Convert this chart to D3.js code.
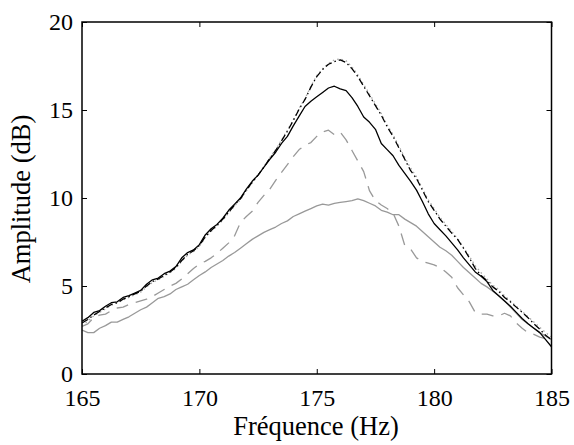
<!DOCTYPE html>
<html><head><meta charset="utf-8">
<script src="https://cdn.jsdelivr.net/npm/d3@7/dist/d3.min.js"></script>
<style>body{margin:0;background:#fff}svg{display:block}</style>
</head><body><svg id="c" width="574" height="445"></svg>
<script>
const freqStart = 165, freqStep = 0.25;
const xTicks = [165, 170, 175, 180, 185];
const yTicks = [0, 5, 10, 15, 20];
const xLabel = "Fréquence (Hz)";
const yLabel = "Amplitude (dB)";
// black solid
const serieA = [3.0,3.2,3.5,3.6,3.85,4.05,4.1,4.35,4.45,4.6,4.75,5.1,5.35,5.45,5.7,5.85,6.1,6.6,6.9,7.05,7.35,7.9,8.25,8.5,8.85,9.3,9.65,10.0,10.5,10.95,11.3,11.75,12.2,12.6,13.1,13.5,14.1,14.65,15.2,15.5,15.75,16.0,16.25,16.35,16.2,16.1,15.7,15.2,14.6,14.3,13.9,13.1,12.75,12.4,11.85,11.4,10.95,10.45,9.8,9.1,8.55,8.2,7.85,7.45,7.05,6.6,6.2,5.8,5.55,5.25,4.75,4.45,4.15,3.85,3.5,3.15,2.85,2.6,2.35,1.95,1.55];
// black dash-dot
const serieB = [2.9,3.1,3.35,3.55,3.75,3.95,4.05,4.25,4.4,4.55,4.7,5.0,5.25,5.4,5.6,5.8,6.05,6.45,6.8,7.0,7.3,7.8,8.15,8.45,8.8,9.2,9.6,9.95,10.45,10.9,11.3,11.75,12.25,12.7,13.25,13.8,14.4,15.05,15.6,16.3,16.9,17.3,17.6,17.75,17.85,17.7,17.35,16.9,16.35,15.8,15.25,14.7,14.05,13.5,12.85,12.2,11.55,11.1,10.45,9.8,9.3,8.8,8.4,8.0,7.65,7.15,6.6,6.0,5.6,5.3,4.95,4.7,4.35,4.1,3.8,3.5,3.2,2.85,2.55,2.2,1.95];
// gray dotted
const serieC = [2.75,3.0,3.3,3.5,3.7,3.9,4.05,4.2,4.35,4.5,4.65,4.95,5.2,5.35,5.55,5.75,6.0,6.4,6.75,6.95,7.25,7.75,8.1,8.4,8.75,9.15,9.55,9.9,10.4,10.85,11.3,11.8,12.3,12.75,13.3,13.85,14.45,15.1,15.65,16.35,16.95,17.35,17.65,17.85,17.9,17.8,17.45,17.0,16.45,15.9,15.35,14.8,14.15,13.6,12.95,12.3,11.7,11.2,10.55,9.9,9.4,8.9,8.5,8.1,7.7,7.2,6.7,6.15,5.75,5.4,5.05,4.8,4.45,4.15,3.85,3.55,3.25,2.95,2.65,2.35,2.1];
// gray dashed
const serieD = [2.7,2.85,3.2,3.35,3.4,3.6,3.75,3.8,3.95,4.05,4.15,4.25,4.4,4.6,4.8,5.0,5.15,5.4,5.7,6.0,6.25,6.4,6.6,6.85,7.15,7.45,7.85,8.6,8.95,9.25,9.75,10.15,10.5,11.0,11.45,11.9,12.35,12.75,13.0,13.15,13.5,13.75,13.85,13.6,13.75,13.3,12.7,12.1,11.5,10.4,9.85,9.6,9.4,9.15,8.4,7.3,7.1,6.6,6.4,6.3,6.2,6.05,5.8,5.5,4.9,4.5,4.1,3.5,3.4,3.4,3.3,3.3,3.45,3.3,2.9,2.6,2.35,2.25,2.1,2.0,1.8];
// gray solid
const serieE = [2.5,2.35,2.35,2.6,2.75,2.95,2.95,3.1,3.25,3.45,3.65,3.8,4.05,4.3,4.4,4.55,4.8,4.95,5.1,5.35,5.6,5.8,6.05,6.25,6.45,6.7,6.9,7.15,7.4,7.65,7.85,8.05,8.2,8.35,8.55,8.7,8.95,9.1,9.25,9.4,9.55,9.65,9.6,9.7,9.75,9.8,9.85,9.95,9.85,9.7,9.55,9.3,9.2,9.05,9.05,8.8,8.6,8.4,8.1,7.8,7.5,7.2,7.0,6.75,6.4,6.05,5.75,5.45,5.15,4.95,4.7,4.45,4.15,3.8,3.45,3.1,2.85,2.6,2.35,2.15,1.95];

const series = [
  {v: serieE, color: "#999", dash: null},
  {v: serieD, color: "#999", dash: "12,8"},
  {v: serieC, color: "#aaa", dash: "1.5,3"},
  {v: serieB, color: "#000", dash: "7,3,1.5,3"},
  {v: serieA, color: "#000", dash: null}
];

const FONT = "'Liberation Serif', Tinos, 'Times New Roman', Times, 'DejaVu Serif', serif";
const L = 82, R = 551.5, T = 22, B = 374;
const x = d3.scaleLinear().domain([165, 185]).range([L, R]);
const y = d3.scaleLinear().domain([0, 20]).range([B, T]);
const svg = d3.select("#c");

const line = d3.line().x((d, i) => x(freqStart + i * freqStep)).y(d => y(d));
svg.append("defs").append("clipPath").attr("id", "clip").append("rect")
  .attr("x", L).attr("y", T).attr("width", R - L).attr("height", B - T);
const g = svg.append("g").attr("clip-path", "url(#clip)");
series.forEach(s => {
  g.append("path").datum(s.v).attr("d", line).attr("fill", "none")
    .attr("stroke", s.color).attr("stroke-width", 1.3)
    .attr("stroke-dasharray", s.dash).attr("stroke-linejoin", "round");
});

const fs = 24, fl = 26.5;
const axB = svg.append("g").attr("transform", `translate(0,${B})`)
  .call(d3.axisBottom(x).tickValues(xTicks).tickSize(-5).tickFormat(d3.format("d")));
const axT = svg.append("g").attr("transform", `translate(0,${T})`)
  .call(d3.axisTop(x).tickValues(xTicks).tickSize(-5).tickFormat(""));
const axL = svg.append("g").attr("transform", `translate(${L},0)`)
  .call(d3.axisLeft(y).tickValues(yTicks).tickSize(-5).tickPadding(9).tickFormat(d3.format("d")));
const axR = svg.append("g").attr("transform", `translate(${R},0)`)
  .call(d3.axisRight(y).tickValues(yTicks).tickSize(-5).tickFormat(""));
[axB, axT, axL, axR].forEach(a => {
  a.attr("font-family", FONT).attr("font-size", fs);
  a.select(".domain").remove();
  a.selectAll(".tick line").attr("stroke", "#000").attr("stroke-width", 1);
  a.selectAll("text").style("font-family", FONT).style("font-size", fs + "px").attr("fill", "#000");
});
axB.selectAll("text").attr("y", 32).attr("dy", null);
svg.append("rect").attr("x", L).attr("y", T).attr("width", R - L).attr("height", B - T)
  .attr("fill", "none").attr("stroke", "#000").attr("stroke-width", 1.5);

svg.append("text").attr("x", 316).attr("y", 435).attr("text-anchor", "middle")
  .style("font-family", FONT).style("font-size", fl + "px").text(xLabel);
svg.append("text").attr("transform", `translate(30,199) rotate(-90)`)
  .attr("text-anchor", "middle").style("font-family", FONT).style("font-size", fl + "px").text(yLabel);
</script></body></html>
